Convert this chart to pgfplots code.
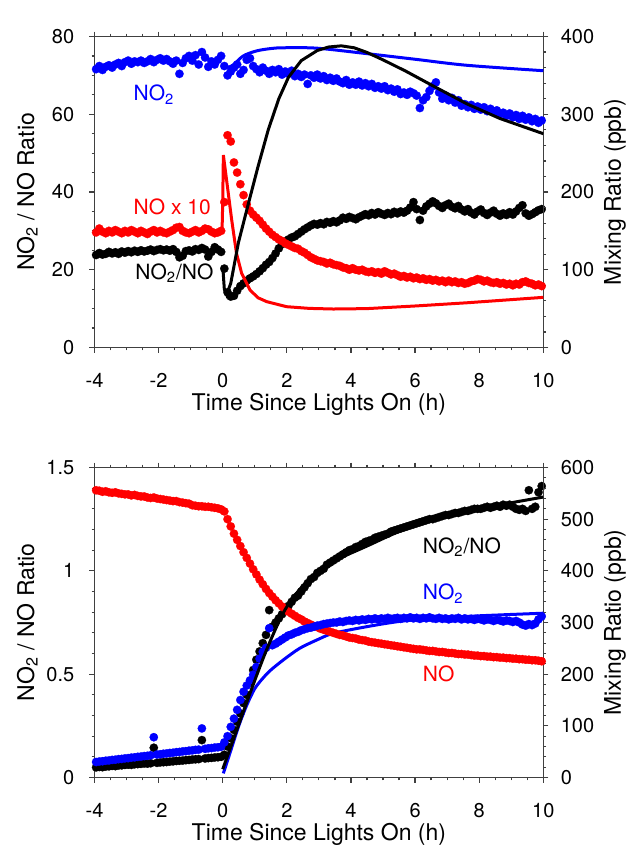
\documentclass[border=0pt]{standalone}
\usepackage{pgfplots}
\usepackage{pgfplotstable}
\pgfplotsset{compat=1.18}
\usepackage{fontspec}
\setmainfont{TeX Gyre Heros}
\newcommand\fsz{\fontsize{10}{12}\selectfont}
\newcommand\afz{\fontsize{10.5}{12.5}\selectfont}
\newcommand\lfz{\fontsize{11.5}{13.5}\selectfont}
\definecolor{axgray}{gray}{0.25}

% ---------- panel a data (t in h) ----------
% NO2 (ppb)
\pgfplotstableread[row sep=\\]{
t v\\
-3.95 358\\ -3.85 362\\ -3.75 357\\ -3.65 361\\ -3.55 363\\ -3.45 360\\ -3.35 364\\ -3.25 366\\ -3.15 362\\ -3.05 367\\
-2.95 369\\ -2.85 365\\ -2.75 368\\ -2.65 367\\ -2.55 369\\ -2.45 366\\ -2.35 368\\ -2.25 371\\ -2.15 367\\ -2.05 370\\
-1.95 372\\ -1.85 369\\ -1.75 371\\ -1.65 368\\ -1.55 365\\ -1.45 369\\ -1.35 352\\ -1.25 366\\ -1.15 372\\ -1.05 375\\
-0.95 369\\ -0.85 376\\ -0.75 364\\ -0.65 380\\ -0.55 373\\ -0.45 361\\ -0.35 368\\ -0.25 364\\ -0.15 370\\ -0.05 375\\
0.05 362\\ 0.15 350\\ 0.25 355\\ 0.35 360\\ 0.45 364\\ 0.55 352\\ 0.65 357\\ 0.75 370\\ 0.85 372\\ 0.95 362\\
1.05 358\\ 1.15 354\\ 1.25 360\\ 1.35 356\\ 1.45 352\\ 1.55 357\\ 1.65 354\\ 1.75 358\\ 1.85 351\\ 1.95 355\\
2.05 352\\ 2.15 356\\ 2.25 349\\ 2.35 352\\ 2.45 348\\ 2.55 351\\ 2.65 339\\ 2.75 350\\ 2.85 347\\ 2.95 351\\
3.05 346\\ 3.15 349\\ 3.25 344\\ 3.35 347\\ 3.45 343\\ 3.55 346\\ 3.65 342\\ 3.75 340\\ 3.85 344\\ 3.95 338\\
4.05 341\\ 4.15 338\\ 4.25 342\\ 4.35 337\\ 4.45 340\\ 4.55 336\\ 4.65 339\\ 4.75 334\\ 4.85 336\\ 4.95 333\\
5.05 336\\ 5.15 331\\ 5.25 333\\ 5.35 329\\ 5.45 332\\ 5.55 326\\ 5.65 328\\ 5.75 325\\ 5.85 329\\ 5.95 327\\
6.05 324\\ 6.15 308\\ 6.25 318\\ 6.35 322\\ 6.45 330\\ 6.55 336\\ 6.65 341\\ 6.75 328\\ 6.85 320\\ 6.95 324\\
7.05 318\\ 7.15 321\\ 7.25 315\\ 7.35 318\\ 7.45 311\\ 7.55 313\\ 7.65 309\\ 7.75 312\\ 7.85 307\\ 7.95 310\\
8.05 306\\ 8.15 309\\ 8.25 304\\ 8.35 307\\ 8.45 303\\ 8.55 305\\ 8.65 300\\ 8.75 302\\ 8.85 298\\ 8.95 301\\
9.05 296\\ 9.15 299\\ 9.25 294\\ 9.35 298\\ 9.45 293\\ 9.55 296\\ 9.65 291\\ 9.75 294\\ 9.85 289\\ 9.95 292\\
}\aNOtwo
% NO x 10 (ppb)
\pgfplotstableread[row sep=\\]{
t v\\
-3.95 148\\ -3.85 153\\ -3.75 149\\ -3.65 147\\ -3.55 150\\ -3.45 148\\ -3.35 151\\ -3.25 149\\ -3.15 147\\ -3.05 150\\
-2.95 148\\ -2.85 151\\ -2.75 149\\ -2.65 147\\ -2.55 150\\ -2.45 148\\ -2.35 146\\ -2.25 149\\ -2.15 151\\ -2.05 148\\
-1.95 150\\ -1.85 148\\ -1.75 147\\ -1.65 149\\ -1.55 151\\ -1.45 154\\ -1.35 155\\ -1.25 150\\ -1.15 148\\ -1.05 147\\
-0.95 149\\ -0.85 151\\ -0.75 148\\ -0.65 150\\ -0.55 153\\ -0.45 152\\ -0.35 149\\ -0.25 147\\ -0.15 148\\ -0.05 150\\
0.05 187\\ 0.15 273\\ 0.25 265\\ 0.35 238\\ 0.45 225\\ 0.55 210\\ 0.65 196\\ 0.75 184\\ 0.85 176\\ 0.95 171\\
1.05 167\\ 1.15 163\\ 1.25 158\\ 1.35 153\\ 1.45 149\\ 1.55 145\\ 1.65 142\\ 1.75 139\\ 1.85 137\\ 1.95 134\\
2.05 132\\ 2.15 130\\ 2.25 128\\ 2.35 127\\ 2.45 124\\ 2.55 122\\ 2.65 119\\ 2.75 116\\ 2.85 114\\ 2.95 112\\
3.05 111\\ 3.15 110\\ 3.25 108\\ 3.35 109\\ 3.45 107\\ 3.55 106\\ 3.65 105\\ 3.75 103\\ 3.85 102\\ 3.95 100\\
4.05 102\\ 4.15 100\\ 4.25 99\\ 4.35 100\\ 4.45 98\\ 4.55 97\\ 4.65 98\\ 4.75 96\\ 4.85 97\\ 4.95 95\\
5.05 98\\ 5.15 96\\ 5.25 94\\ 5.35 95\\ 5.45 93\\ 5.55 91\\ 5.65 92\\ 5.75 90\\ 5.85 91\\ 5.95 89\\
6.05 90\\ 6.15 88\\ 6.25 89\\ 6.35 87\\ 6.45 88\\ 6.55 86\\ 6.65 87\\ 6.75 85\\ 6.85 86\\ 6.95 84\\
7.05 86\\ 7.15 84\\ 7.25 85\\ 7.35 83\\ 7.45 84\\ 7.55 82\\ 7.65 83\\ 7.75 85\\ 7.85 86\\ 7.95 88\\
8.05 87\\ 8.15 85\\ 8.25 86\\ 8.35 84\\ 8.45 83\\ 8.55 84\\ 8.65 82\\ 8.75 83\\ 8.85 81\\ 8.95 82\\
9.05 80\\ 9.15 82\\ 9.25 81\\ 9.35 84\\ 9.45 85\\ 9.55 83\\ 9.65 82\\ 9.75 80\\ 9.85 81\\ 9.95 79\\
}\aNO
% NO2/NO ratio
\pgfplotstableread[row sep=\\]{
t v\\
-3.95 23.8\\ -3.85 24.3\\ -3.75 23.9\\ -3.65 24.1\\ -3.55 24.6\\ -3.45 24.2\\ -3.35 24.5\\ -3.25 24.1\\ -3.15 24.7\\ -3.05 24.4\\
-2.95 24.8\\ -2.85 24.5\\ -2.75 24.9\\ -2.65 24.6\\ -2.55 25.0\\ -2.45 24.7\\ -2.35 24.9\\ -2.25 25.2\\ -2.15 24.8\\ -2.05 25.1\\
-1.95 25.3\\ -1.85 25.0\\ -1.75 25.2\\ -1.65 24.9\\ -1.55 25.3\\ -1.45 24.6\\ -1.35 23.2\\ -1.25 23.6\\ -1.15 24.8\\ -1.05 25.0\\
-0.95 24.7\\ -0.85 25.3\\ -0.75 25.1\\ -0.65 25.6\\ -0.55 25.2\\ -0.45 23.4\\ -0.35 24.6\\ -0.25 25.8\\ -0.15 25.2\\ -0.05 24.6\\
0.05 20.3\\ 0.15 14.2\\ 0.25 13.1\\ 0.35 13.3\\ 0.45 14.6\\ 0.55 15.8\\ 0.65 16.5\\ 0.75 17.2\\ 0.85 17.8\\ 0.95 18.3\\
1.05 18.9\\ 1.15 19.6\\ 1.25 20.4\\ 1.35 21.3\\ 1.45 22.0\\ 1.55 23.0\\ 1.65 24.2\\ 1.75 25.5\\ 1.85 26.6\\ 1.95 27.3\\
2.05 27.8\\ 2.15 28.3\\ 2.25 28.6\\ 2.35 29.2\\ 2.45 29.8\\ 2.55 30.4\\ 2.65 30.9\\ 2.75 31.4\\ 2.85 31.8\\ 2.95 31.6\\
3.05 32.0\\ 3.15 31.7\\ 3.25 32.3\\ 3.35 32.1\\ 3.45 32.5\\ 3.55 32.2\\ 3.65 32.7\\ 3.75 33.4\\ 3.85 33.1\\ 3.95 33.6\\
4.05 33.3\\ 4.15 33.0\\ 4.25 33.5\\ 4.35 33.9\\ 4.45 34.3\\ 4.55 34.0\\ 4.65 34.6\\ 4.75 34.2\\ 4.85 34.8\\ 4.95 34.4\\
5.05 34.1\\ 5.15 34.6\\ 5.25 34.3\\ 5.35 34.9\\ 5.45 34.5\\ 5.55 35.0\\ 5.65 34.7\\ 5.75 35.2\\ 5.85 36.0\\ 5.95 37.4\\
6.05 35.6\\ 6.15 32.8\\ 6.25 35.2\\ 6.35 36.3\\ 6.45 37.0\\ 6.55 37.6\\ 6.65 37.1\\ 6.75 36.4\\ 6.85 35.9\\ 6.95 36.6\\
7.05 37.0\\ 7.15 36.2\\ 7.25 35.8\\ 7.35 36.4\\ 7.45 35.5\\ 7.55 35.0\\ 7.65 35.6\\ 7.75 34.7\\ 7.85 34.2\\ 7.95 35.0\\
8.05 35.5\\ 8.15 34.6\\ 8.25 34.1\\ 8.35 34.7\\ 8.45 35.2\\ 8.55 34.4\\ 8.65 33.9\\ 8.75 34.5\\ 8.85 34.1\\ 8.95 34.8\\
9.05 34.2\\ 9.15 35.0\\ 9.25 35.9\\ 9.35 36.6\\ 9.45 34.5\\ 9.55 33.9\\ 9.65 34.3\\ 9.75 34.8\\ 9.85 35.3\\ 9.95 35.6\\
}\aRatio

% ---------- panel b data ----------
% NO (ppb)
\pgfplotstableread[row sep=\\]{
t v\\
-3.95 556\\ -3.85 555\\ -3.75 553\\ -3.65 554\\ -3.55 552\\ -3.45 551\\ -3.35 552\\ -3.25 550\\ -3.15 549\\ -3.05 548\\
-2.95 548\\ -2.85 546\\ -2.75 547\\ -2.65 545\\ -2.55 544\\ -2.45 544\\ -2.35 542\\ -2.25 541\\ -2.15 542\\ -2.05 540\\
-1.95 539\\ -1.85 538\\ -1.75 537\\ -1.65 536\\ -1.55 535\\ -1.45 535\\ -1.35 533\\ -1.25 532\\ -1.15 531\\ -1.05 530\\
-0.95 527\\ -0.85 526\\ -0.75 525\\ -0.65 525\\ -0.55 524\\ -0.45 524\\ -0.35 523\\ -0.25 522\\ -0.15 521\\ -0.05 519\\
0.05 515\\ 0.15 500\\ 0.25 486\\ 0.35 472\\ 0.45 460\\ 0.55 448\\ 0.65 436\\ 0.75 425\\ 0.85 414\\ 0.95 403\\
1.05 393\\ 1.15 383\\ 1.25 374\\ 1.35 365\\ 1.45 357\\ 1.55 350\\ 1.65 343\\ 1.75 337\\ 1.85 331\\ 1.95 326\\
2.05 321\\ 2.15 317\\ 2.25 313\\ 2.35 309\\ 2.45 306\\ 2.55 302\\ 2.65 299\\ 2.75 296\\ 2.85 293\\ 2.95 291\\
3.05 288\\ 3.15 286\\ 3.25 284\\ 3.35 282\\ 3.45 280\\ 3.55 278\\ 3.65 276\\ 3.75 275\\ 3.85 273\\ 3.95 271\\
4.05 270\\ 4.15 269\\ 4.25 267\\ 4.35 266\\ 4.45 265\\ 4.55 263\\ 4.65 262\\ 4.75 261\\ 4.85 260\\ 4.95 259\\
5.05 258\\ 5.15 257\\ 5.25 256\\ 5.35 255\\ 5.45 254\\ 5.55 253\\ 5.65 252\\ 5.75 251\\ 5.85 250\\ 5.95 249\\
6.05 248\\ 6.15 248\\ 6.25 247\\ 6.35 246\\ 6.45 245\\ 6.55 245\\ 6.65 244\\ 6.75 243\\ 6.85 243\\ 6.95 242\\
7.05 241\\ 7.15 241\\ 7.25 240\\ 7.35 239\\ 7.45 239\\ 7.55 238\\ 7.65 238\\ 7.75 237\\ 7.85 236\\ 7.95 236\\
8.05 235\\ 8.15 235\\ 8.25 234\\ 8.35 234\\ 8.45 233\\ 8.55 233\\ 8.65 232\\ 8.75 232\\ 8.85 231\\ 8.95 231\\
9.05 230\\ 9.15 230\\ 9.25 229\\ 9.35 229\\ 9.45 228\\ 9.55 228\\ 9.65 227\\ 9.75 227\\ 9.85 226\\ 9.95 225\\
}\bNO
% NO2 (ppb)
\pgfplotstableread[row sep=\\]{
t v\\
-3.95 30\\ -3.85 31\\ -3.75 31.5\\ -3.65 32.5\\ -3.55 33\\ -3.45 34\\ -3.35 34.5\\ -3.25 35.5\\ -3.15 36\\ -3.05 37\\
-2.95 37.5\\ -2.85 38.5\\ -2.75 39\\ -2.65 40\\ -2.55 40.5\\ -2.45 41.5\\ -2.35 42\\ -2.25 43\\ -2.15 78\\ -2.05 44.5\\
-1.95 45\\ -1.85 46\\ -1.75 46.5\\ -1.65 47.5\\ -1.55 48\\ -1.45 49\\ -1.35 49.5\\ -1.25 50.5\\ -1.15 51\\ -1.05 52\\
-0.95 52.5\\ -0.85 53.5\\ -0.75 54\\ -0.65 95\\ -0.55 55.5\\ -0.45 56.5\\ -0.35 57\\ -0.25 58\\ -0.15 58.5\\ -0.05 59.5\\
0.05 68\\ 0.15 80\\ 0.25 98\\ 0.35 114\\ 0.45 131\\ 0.55 150\\ 0.65 166\\ 0.75 178\\ 0.85 188\\ 0.95 199\\
1.05 214\\ 1.15 230\\ 1.25 243\\ 1.35 251\\ 1.45 289\\ 1.55 256\\ 1.65 259\\ 1.75 263\\ 1.85 267\\ 1.95 271\\
2.05 275\\ 2.15 277\\ 2.25 280\\ 2.35 282\\ 2.45 285\\ 2.55 287\\ 2.65 289\\ 2.75 290\\ 2.85 292\\ 2.95 294\\
3.05 295\\ 3.15 297\\ 3.25 298\\ 3.35 299\\ 3.45 300\\ 3.55 300\\ 3.65 302\\ 3.75 301\\ 3.85 303\\ 3.95 304\\
4.05 303\\ 4.15 305\\ 4.25 304\\ 4.35 306\\ 4.45 305\\ 4.55 307\\ 4.65 306\\ 4.75 308\\ 4.85 306\\ 4.95 308\\
5.05 307\\ 5.15 309\\ 5.25 307\\ 5.35 308\\ 5.45 309\\ 5.55 307\\ 5.65 309\\ 5.75 308\\ 5.85 310\\ 5.95 308\\
6.05 309\\ 6.15 307\\ 6.25 309\\ 6.35 308\\ 6.45 310\\ 6.55 308\\ 6.65 307\\ 6.75 309\\ 6.85 307\\ 6.95 308\\
7.05 306\\ 7.15 308\\ 7.25 307\\ 7.35 309\\ 7.45 306\\ 7.55 308\\ 7.65 306\\ 7.75 307\\ 7.85 305\\ 7.95 307\\
8.05 306\\ 8.15 304\\ 8.25 306\\ 8.35 305\\ 8.45 303\\ 8.55 305\\ 8.65 304\\ 8.75 302\\ 8.85 304\\ 8.95 303\\
9.05 301\\ 9.15 303\\ 9.25 300\\ 9.35 296\\ 9.45 294\\ 9.55 297\\ 9.65 295\\ 9.75 298\\ 9.85 306\\ 9.95 312\\
}\bNOtwo
% NO2/NO ratio
\pgfplotstableread[row sep=\\]{
t v\\
-3.95 0.049\\ -3.85 0.051\\ -3.75 0.050\\ -3.65 0.053\\ -3.55 0.054\\ -3.45 0.056\\ -3.35 0.055\\ -3.25 0.058\\ -3.15 0.059\\ -3.05 0.061\\
-2.95 0.062\\ -2.85 0.061\\ -2.75 0.064\\ -2.65 0.065\\ -2.55 0.066\\ -2.45 0.068\\ -2.35 0.067\\ -2.25 0.069\\ -2.15 0.144\\ -2.05 0.071\\
-1.95 0.073\\ -1.85 0.074\\ -1.75 0.075\\ -1.65 0.077\\ -1.55 0.078\\ -1.45 0.080\\ -1.35 0.081\\ -1.25 0.082\\ -1.15 0.084\\ -1.05 0.085\\
-0.95 0.087\\ -0.85 0.088\\ -0.75 0.089\\ -0.65 0.181\\ -0.55 0.092\\ -0.45 0.094\\ -0.35 0.095\\ -0.25 0.097\\ -0.15 0.098\\ -0.05 0.100\\
0.05 0.11\\ 0.15 0.15\\ 0.25 0.19\\ 0.35 0.23\\ 0.45 0.27\\ 0.55 0.31\\ 0.65 0.36\\ 0.75 0.40\\ 0.85 0.46\\ 0.95 0.52\\
1.05 0.57\\ 1.15 0.61\\ 1.25 0.65\\ 1.35 0.69\\ 1.45 0.81\\ 1.55 0.73\\ 1.65 0.75\\ 1.75 0.77\\ 1.85 0.79\\ 1.95 0.81\\
2.05 0.83\\ 2.15 0.85\\ 2.25 0.87\\ 2.35 0.88\\ 2.45 0.90\\ 2.55 0.92\\ 2.65 0.94\\ 2.75 0.96\\ 2.85 0.97\\ 2.95 0.99\\
3.05 1.00\\ 3.15 1.01\\ 3.25 1.03\\ 3.35 1.04\\ 3.45 1.05\\ 3.55 1.06\\ 3.65 1.07\\ 3.75 1.08\\ 3.85 1.09\\ 3.95 1.10\\
4.05 1.105\\ 4.15 1.115\\ 4.25 1.12\\ 4.35 1.13\\ 4.45 1.14\\ 4.55 1.145\\ 4.65 1.15\\ 4.75 1.16\\ 4.85 1.165\\ 4.95 1.17\\
5.05 1.175\\ 5.15 1.18\\ 5.25 1.19\\ 5.35 1.195\\ 5.45 1.20\\ 5.55 1.205\\ 5.65 1.21\\ 5.75 1.215\\ 5.85 1.22\\ 5.95 1.225\\
6.05 1.23\\ 6.15 1.235\\ 6.25 1.24\\ 6.35 1.245\\ 6.45 1.25\\ 6.55 1.25\\ 6.65 1.255\\ 6.75 1.26\\ 6.85 1.265\\ 6.95 1.27\\
7.05 1.27\\ 7.15 1.275\\ 7.25 1.28\\ 7.35 1.28\\ 7.45 1.285\\ 7.55 1.29\\ 7.65 1.29\\ 7.75 1.295\\ 7.85 1.30\\ 7.95 1.30\\
8.05 1.30\\ 8.15 1.305\\ 8.25 1.31\\ 8.35 1.305\\ 8.45 1.31\\ 8.55 1.315\\ 8.65 1.31\\ 8.75 1.32\\ 8.85 1.315\\ 8.95 1.32\\
9.05 1.31\\ 9.15 1.30\\ 9.25 1.295\\ 9.35 1.30\\ 9.45 1.29\\ 9.55 1.39\\ 9.65 1.30\\ 9.75 1.31\\ 9.85 1.38\\ 9.95 1.41\\
}\bRatio

\pgfplotsset{
  common/.style={scale only axis, width=224.4pt, xmin=-4, xmax=10, anchor=south west,
    tick align=outside, major tick length=2.5pt, minor tick length=1.4pt,
    axis line style={draw=axgray, line width=0.6pt},
    every tick/.append style={draw=axgray, line width=0.6pt},
    tick label style={font=\fsz}, label style={font=\lfz},
    /pgf/number format/assume math mode=true},
  leftax/.style={common, axis y line*=left, xtick={-4,-2,...,10}, minor x tick num=3,
    xlabel={Time Since Lights On (h)},
    ylabel={NO\textsubscript{2} / NO Ratio},
    ylabel style={at={(axis description cs:-0.1348,0.5)}, anchor=base},
    xticklabel style={yshift=-7pt}, yticklabel style={xshift=-4.1pt}},
  rightax/.style={common, axis y line*=right, axis x line=none,
    ylabel={Mixing Ratio (ppb)},
    ylabel style={at={(axis description cs:1.173,0.5)}, anchor=base},
    yticklabel style={xshift=2.7pt}},
  overax/.style={common, hide axis},
  dots/.style={only marks, mark=*, mark size=2.1pt, color=#1, mark options={solid, fill=#1, draw=#1, line width=0.1pt}},
  model/.style={no marks, line width=1.5pt, color=#1},
}

\begin{document}
\begin{tikzpicture}
\useasboundingbox (-47.25pt,-249.75pt) rectangle (267.75pt,173.75pt);

% ================= panel a =================
\begin{axis}[leftax, at={(0pt,0pt)}, height=155.5pt, ymin=0, ymax=80,
  ytick={0,20,...,80}, minor y tick num=3,
  xlabel style={at={(axis description cs:0.5,-0.201)}, anchor=base}]
  \addplot[dots=black] table[x=t, y=v] {\aRatio};
  \node[anchor=base west, font=\afz] at (axis description cs:0.019,1.032) {a)};
  \node[anchor=base west, font=\afz] at (axis description cs:0.0753,0.218) {NO\textsubscript{2}/NO};
  \node[anchor=base west, font=\afz, text=red] at (axis description cs:0.0717,0.427) {NO x 10};
  \node[anchor=base west, font=\afz, text=blue] at (axis description cs:0.0717,0.793) {NO\textsubscript{2}};
\end{axis}
\begin{axis}[rightax, at={(0pt,0pt)}, height=155.5pt, ymin=0, ymax=400,
  ytick={0,100,...,400}, minor y tick num=4]
  \addplot[dots=red] table[x=t, y=v] {\aNO};
  \addplot[dots=blue] table[x=t, y=v] {\aNOtwo};
  \addplot[model=red] coordinates {(-0.06,150) (-0.02,152) (0.0,187) (0.02,247.5) (0.12,215.5) (0.28,164)
    (0.43,121) (0.59,95.5) (0.85,74) (1.1,64) (1.37,59) (1.99,52.5) (2.7,50.3) (3.45,49.5)
    (4.49,50) (6.05,53.5) (7.61,57.5) (10,64.5)};
  \addplot[model=blue, smooth] coordinates {(0,360) (0.28,362) (0.64,375) (1.06,381.5) (1.5,384.5)
    (1.89,385.5) (2.93,385) (4.49,378) (6.05,370.5) (7.61,363) (10,356)};
\end{axis}
\begin{axis}[overax, at={(0pt,0pt)}, height=155.5pt, ymin=0, ymax=80]
  \addplot[model=black] coordinates {(0,21) (0.05,15) (0.12,13.6) (0.25,16.5) (0.49,27) (0.8,37)
    (1.1,46.5) (1.42,56) (1.75,64) (2.05,69.5) (2.45,73.8) (2.95,76.4) (3.3,77.3) (3.7,77.6)
    (4.1,77.1) (4.5,75.9) (5.0,74.0) (5.73,71.0) (6.56,67.3) (7.61,62.7) (8.65,58.9) (10,55.0)};
\end{axis}

% ================= panel b =================
\begin{axis}[leftax, at={(0pt,-215pt)}, height=155pt, ymin=0, ymax=1.5,
  ytick={0,0.5,1,1.5}, minor y tick num=4,
  xlabel style={at={(axis description cs:0.5,-0.204)}, anchor=base}]
  \addplot[dots=black] table[x=t, y=v] {\bRatio};
  \node[anchor=base west, font=\afz] at (axis description cs:0.019,1.027) {b)};
  \node[anchor=base west, font=\afz] at (axis description cs:0.716,0.723) {NO\textsubscript{2}/NO};
  \node[anchor=base west, font=\afz, text=blue] at (axis description cs:0.716,0.573) {NO\textsubscript{2}};
  \node[anchor=base west, font=\afz, text=red] at (axis description cs:0.716,0.309) {NO};
\end{axis}
\begin{axis}[rightax, at={(0pt,-215pt)}, height=155pt, ymin=0, ymax=600,
  ytick={0,100,...,600}, minor y tick num=4]
  \addplot[dots=red] table[x=t, y=v] {\bNO};
  \addplot[dots=blue] table[x=t, y=v] {\bNOtwo};
  \addplot[model=blue, smooth] coordinates {(0.02,8) (0.25,52) (0.5,100) (0.75,140) (1.0,172) (1.25,192)
    (1.5,208) (1.9,228) (2.4,250) (3,268) (3.45,279) (4.5,292) (5.5,302) (6.5,308) (8,313) (10,318)};
\end{axis}
\begin{axis}[overax, at={(0pt,-215pt)}, height=155pt, ymin=0, ymax=1.5]
  \addplot[model=black, smooth] coordinates {(0,0.04) (0.3,0.17) (0.6,0.30) (1.0,0.47) (1.4,0.63)
    (1.9,0.80) (2.4,0.91) (3,1.0) (3.5,1.05) (4.5,1.12) (5.5,1.19) (6.5,1.24) (7.5,1.28)
    (8.5,1.315) (10,1.357)};
\end{axis}
\end{tikzpicture}
\end{document}
